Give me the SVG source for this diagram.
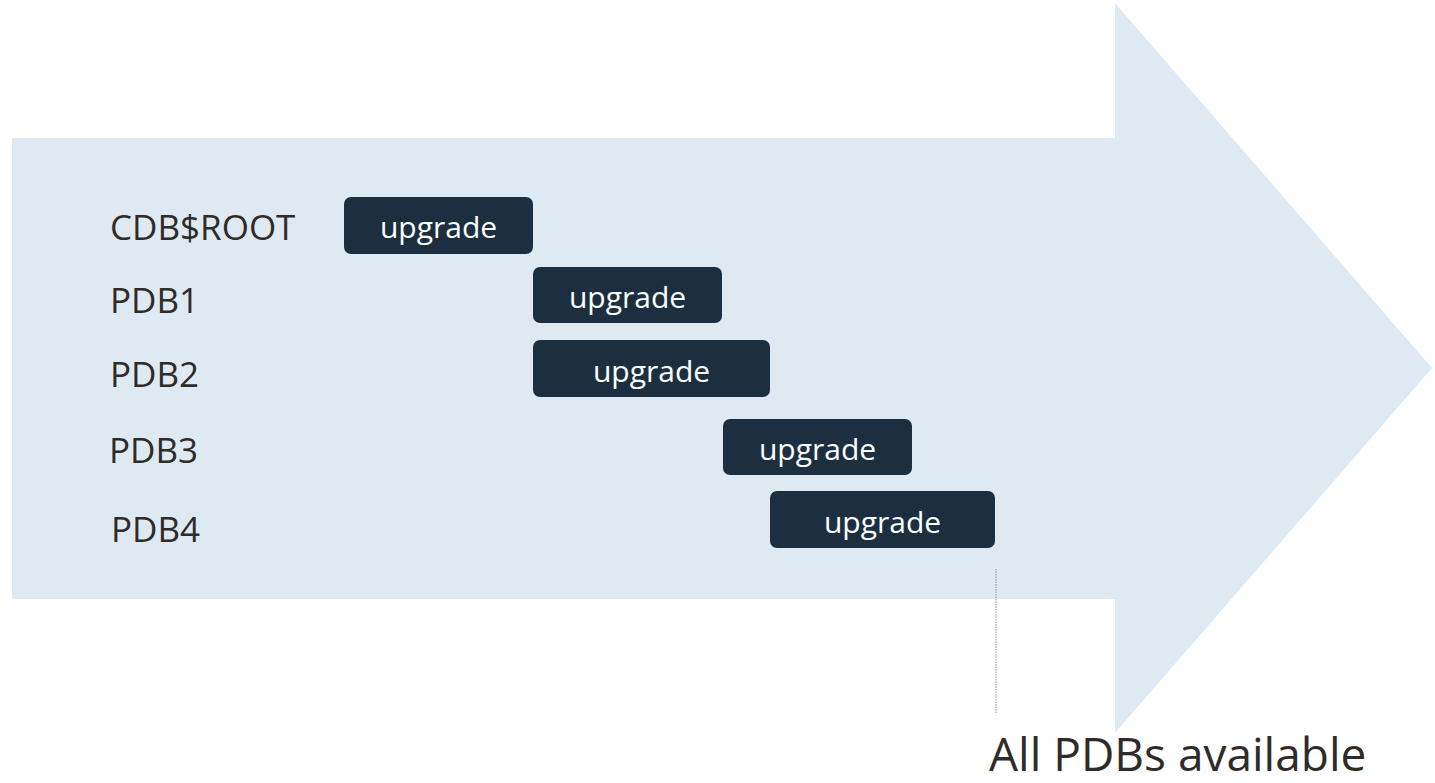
<svg xmlns="http://www.w3.org/2000/svg" width="1435" height="783" viewBox="0 0 1435 783">
<style>
.lbl{font-family:"Open Sans","Noto Sans","Liberation Sans",sans-serif;font-size:35px;fill:#2f2b29}
.box{fill:#1c2f40}
.bt{font-family:"Open Sans","Noto Sans","Liberation Sans",sans-serif;font-size:30px;fill:#ffffff;text-anchor:middle}
.big{font-family:"Open Sans","Noto Sans","Liberation Sans",sans-serif;font-size:46px;fill:#2f2b29}
</style>
<rect width="1435" height="783" fill="#ffffff"/>
<g id="arrow">
<polygon points="12,138 1115,138 1115,3 1432,368 1115,733 1115,599 12,599" fill="#dfe9f2"/>
</g>
<g id="labels">
<text class="lbl" x="110" y="240">CDB$ROOT</text>
<text class="lbl" x="110" y="313">PDB1</text>
<text class="lbl" x="110" y="387">PDB2</text>
<text class="lbl" x="109" y="463">PDB3</text>
<text class="lbl" x="111" y="542">PDB4</text>
</g>
<g id="node-root">
<rect class="box" x="344" y="197" width="189" height="57" rx="7"/>
<text class="bt" x="438.5" y="238">upgrade</text>
</g>
<g id="node-pdb1">
<rect class="box" x="533" y="267" width="189" height="56" rx="7"/>
<text class="bt" x="627.5" y="308">upgrade</text>
</g>
<g id="node-pdb2">
<rect class="box" x="533" y="340" width="237" height="57" rx="7"/>
<text class="bt" x="651.5" y="382">upgrade</text>
</g>
<g id="node-pdb3">
<rect class="box" x="723" y="419" width="189" height="56" rx="7"/>
<text class="bt" x="817.5" y="460">upgrade</text>
</g>
<g id="node-pdb4">
<rect class="box" x="770" y="491" width="225" height="57" rx="7"/>
<text class="bt" x="882.5" y="533">upgrade</text>
</g>
<g id="connectors">
<line x1="996" y1="569" x2="996" y2="714" stroke="#8a8f96" stroke-width="1" stroke-dasharray="1.5,1"/>
</g>
<g id="caption">
<text class="big" x="989" y="771">All PDBs available</text>
</g>
</svg>
